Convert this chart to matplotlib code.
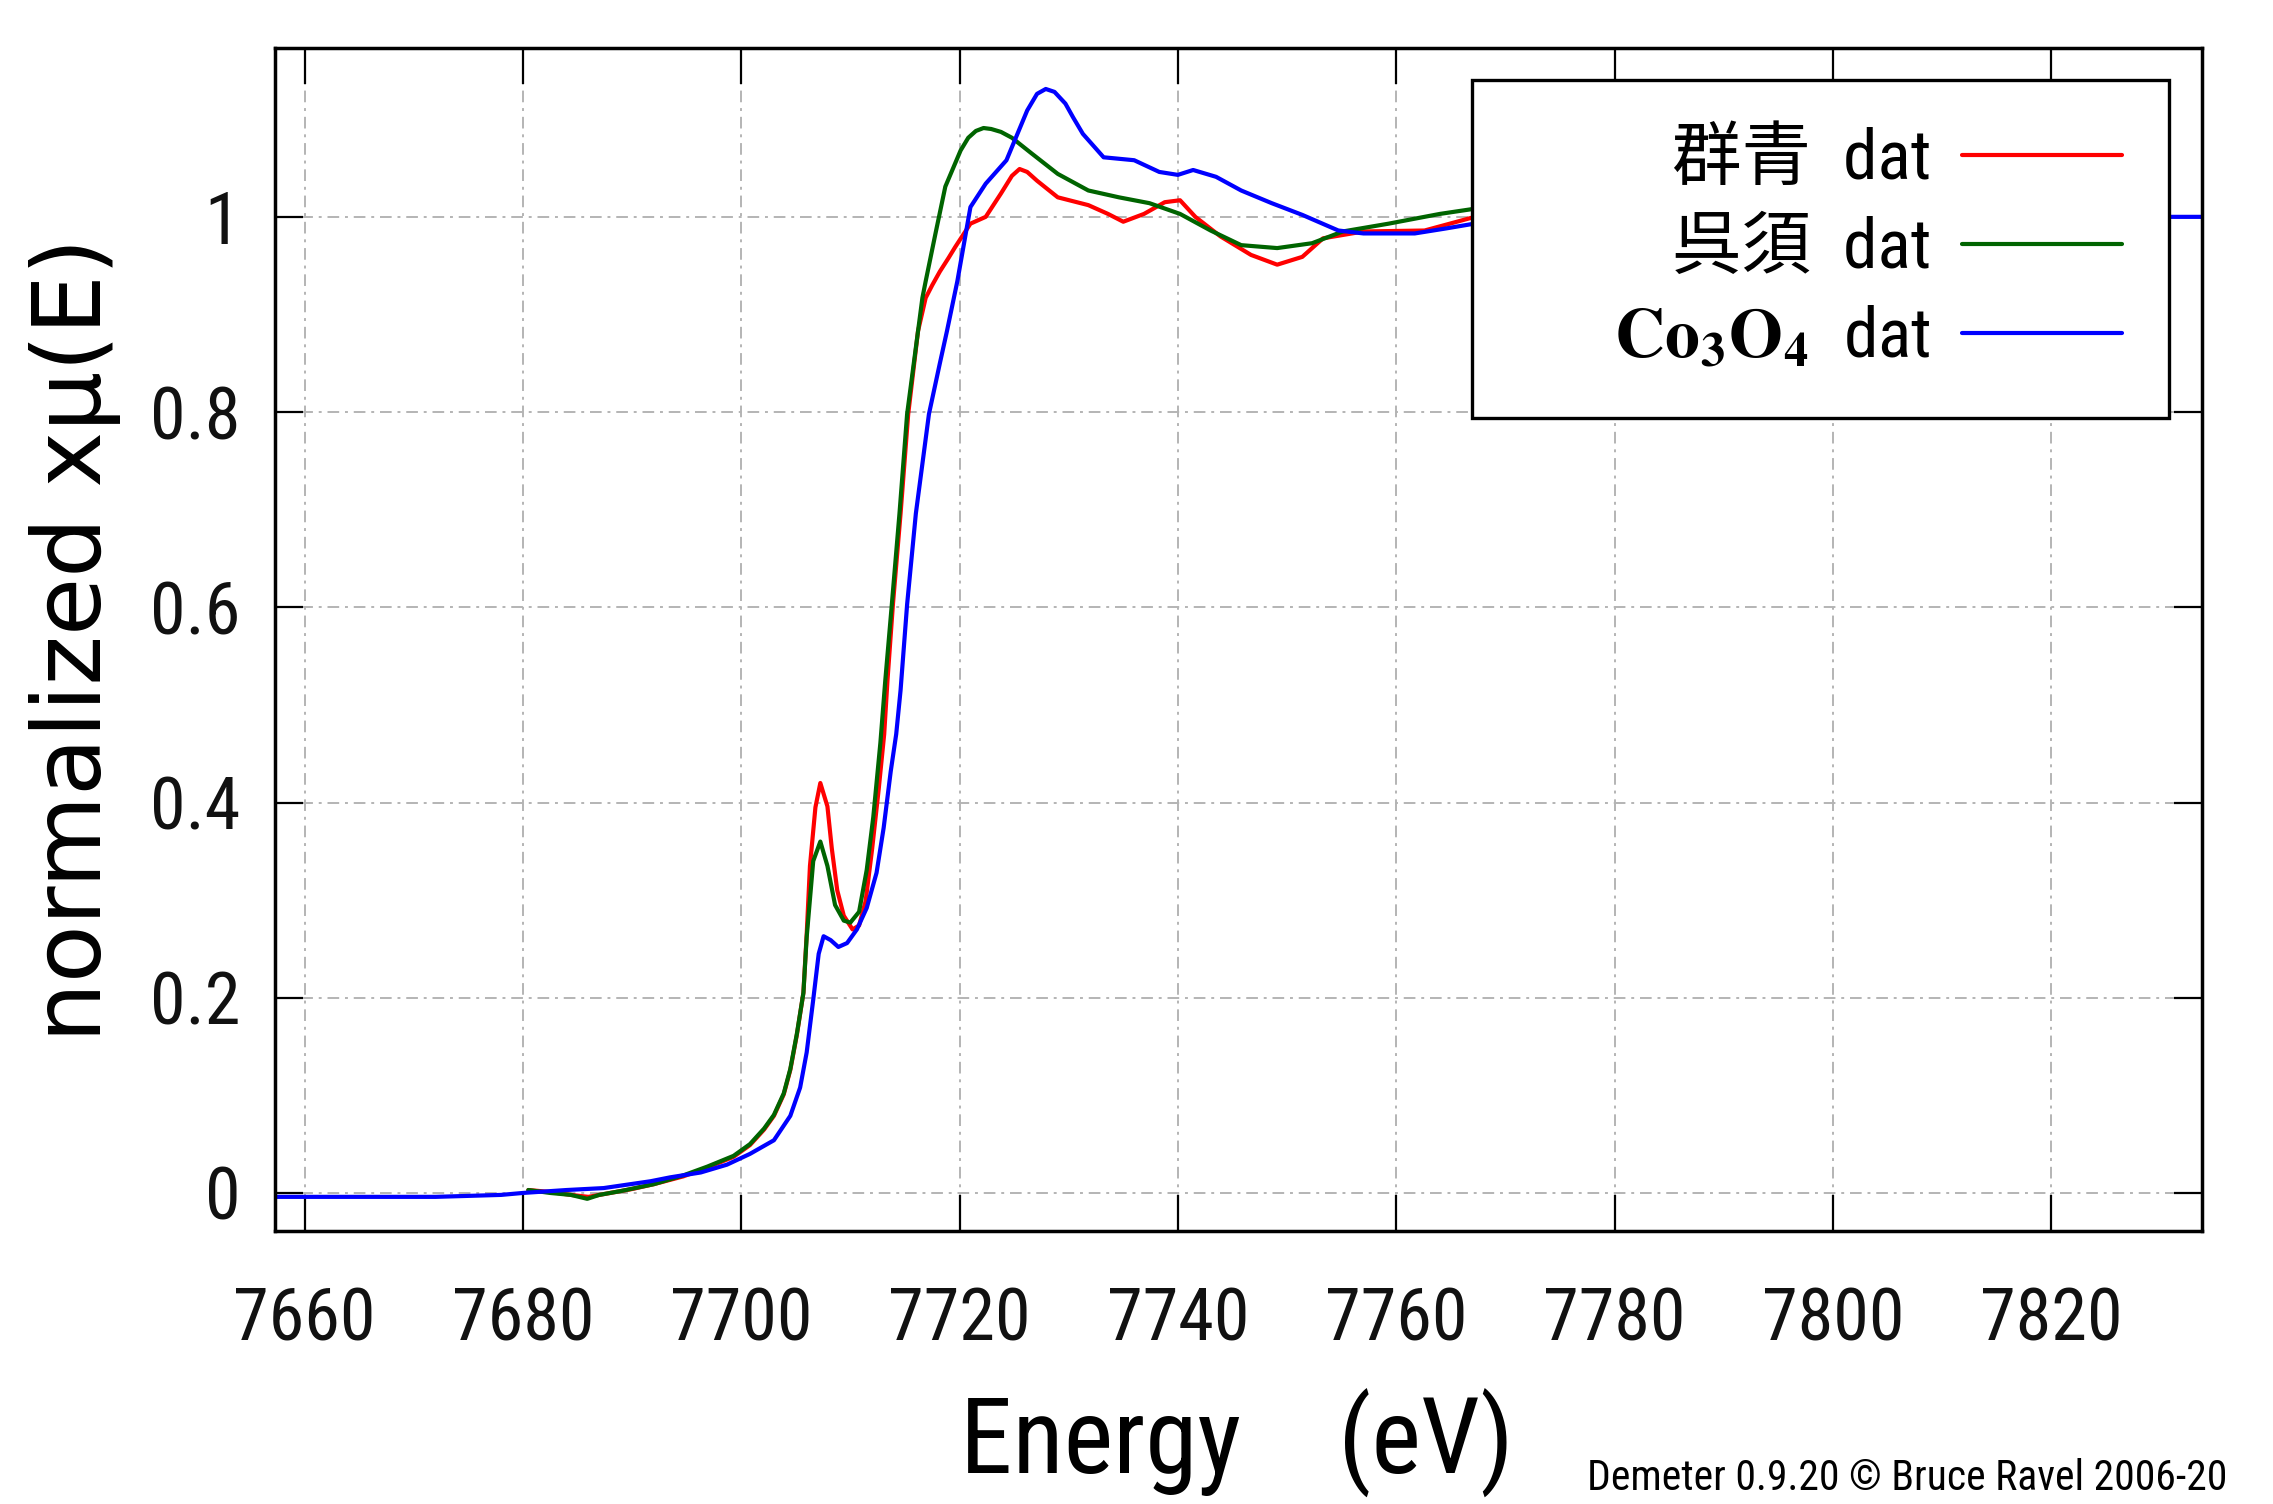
import matplotlib
matplotlib.use("Agg")
import matplotlib.pyplot as plt
from matplotlib import font_manager
from matplotlib.font_manager import FontProperties

# normalized xmu(E)
energy_gunjo = [7680.5, 7682.5, 7684.4, 7686.0, 7688.0, 7690.0, 7692.0, 7694.7,
                7696.9, 7699.3, 7700.8, 7702.1, 7703.0, 7703.9, 7704.5, 7705.1,
                7705.7, 7706.0, 7706.3, 7706.8, 7707.25, 7707.9, 7708.3, 7708.8,
                7709.4, 7710.2, 7710.8, 7711.4, 7712.0, 7712.6, 7713.1, 7713.4,
                7713.9, 7714.6, 7715.3, 7716.2, 7716.9, 7717.5, 7718.2, 7719.0,
                7719.6, 7721.0, 7722.4, 7723.8, 7724.8, 7725.5, 7726.2, 7727.1,
                7729.0, 7731.8, 7733.6, 7735.0, 7736.9, 7738.8, 7740.2, 7741.6,
                7743.9, 7746.7, 7749.1, 7751.4, 7753.3, 7757.0, 7762.6, 7768.2,
                7780.0, 7800.0]
mu_gunjo = [0.003, 0.001, -0.002, -0.004, 0.000, 0.004, 0.009, 0.017,
            0.026, 0.037, 0.049, 0.065, 0.079, 0.101, 0.126, 0.162,
            0.205, 0.265, 0.335, 0.395, 0.420, 0.396, 0.353, 0.310,
            0.284, 0.270, 0.274, 0.299, 0.353, 0.414, 0.470, 0.525,
            0.603, 0.696, 0.798, 0.883, 0.917, 0.930, 0.944, 0.958,
            0.969, 0.993, 1.000, 1.024, 1.042, 1.049, 1.046, 1.037,
            1.020, 1.012, 1.003, 0.995, 1.003, 1.015, 1.017, 1.000,
            0.980, 0.961, 0.951, 0.959, 0.978, 0.985, 0.986, 1.003,
            1.005, 1.000]

energy_gosu = [7680.5, 7682.5, 7684.4, 7685.9, 7687.0, 7689.0, 7692.0, 7694.7,
               7696.9, 7699.3, 7700.8, 7702.1, 7703.0, 7703.9, 7704.5, 7705.1,
               7705.7, 7706.0, 7706.6, 7707.25, 7707.9, 7708.6, 7709.4, 7710.0,
               7710.8, 7711.5, 7712.1, 7712.75, 7713.2, 7713.8, 7714.5, 7715.2,
               7716.2, 7716.6, 7716.9, 7717.8, 7718.7, 7720.1, 7720.8, 7721.5,
               7722.2, 7722.9, 7723.8, 7724.8, 7726.6, 7729.0, 7731.8, 7734.6,
               7737.4, 7740.2, 7743.0, 7745.8, 7749.1, 7752.3, 7755.1, 7759.3,
               7764.0, 7768.2, 7780.0, 7800.0]
mu_gosu = [0.003, 0.000, -0.002, -0.006, -0.002, 0.002, 0.009, 0.018,
           0.027, 0.038, 0.050, 0.066, 0.080, 0.102, 0.127, 0.163,
           0.205, 0.262, 0.340, 0.360, 0.335, 0.295, 0.279, 0.277,
           0.288, 0.331, 0.385, 0.461, 0.525, 0.603, 0.696, 0.798,
           0.883, 0.917, 0.934, 0.983, 1.031, 1.068, 1.081, 1.088,
           1.091, 1.090, 1.087, 1.081, 1.065, 1.044, 1.027, 1.020,
           1.014, 1.003, 0.986, 0.971, 0.968, 0.973, 0.985, 0.993,
           1.003, 1.010, 1.012, 1.005]

energy_co3o4 = [7655.0, 7665.0, 7672.0, 7678.0, 7680.0, 7684.0, 7687.4, 7691.7,
                7693.5, 7696.3, 7698.7, 7700.8, 7703.0, 7704.5, 7705.4, 7706.0,
                7706.6, 7707.1, 7707.55, 7708.2, 7708.9, 7709.7, 7710.6, 7711.5,
                7712.4, 7713.05, 7713.7, 7714.2, 7714.6, 7715.2, 7716.0, 7717.2,
                7718.2, 7718.85, 7719.8, 7721.0, 7722.4, 7724.3, 7726.2, 7727.1,
                7727.9, 7728.7, 7729.7, 7730.4, 7731.3, 7733.2, 7736.0, 7738.3,
                7740.0, 7741.4, 7743.5, 7745.8, 7748.6, 7751.4, 7754.7, 7757.0,
                7761.7, 7764.5, 7768.2, 7790.0, 7810.0, 7834.0]
mu_co3o4 = [-0.004, -0.004, -0.004, -0.002, 0.000, 0.003, 0.005, 0.012,
            0.016, 0.021, 0.029, 0.040, 0.054, 0.079, 0.108, 0.144,
            0.198, 0.245, 0.263, 0.259, 0.252, 0.256, 0.270, 0.292,
            0.328, 0.374, 0.432, 0.470, 0.515, 0.603, 0.696, 0.798,
            0.850, 0.883, 0.934, 1.010, 1.034, 1.058, 1.109, 1.126,
            1.131, 1.128, 1.116, 1.102, 1.085, 1.061, 1.058, 1.046,
            1.043, 1.048, 1.041, 1.027, 1.014, 1.002, 0.986, 0.983,
            0.983, 0.988, 0.995, 1.000, 1.000, 1.000]

sample_names = ["群青", "呉須", r"$\mathbf{Co_3O_4}$"]
sample_colors = ["#ff0000", "#006400", "#0000ff"]
x_ticks = [7660, 7680, 7700, 7720, 7740, 7760, 7780, 7800, 7820]
y_ticks = [0, 0.2, 0.4, 0.6, 0.8, 1]
y_tick_labels = ["0", "0.2", "0.4", "0.6", "0.8", "1"]

installed = {f.name for f in font_manager.fontManager.ttflist}
narrow = next((n for n in ["Liberation Sans Narrow", "Roboto Condensed",
                           "Open Sans Condensed"] if n in installed),
              "Liberation Sans")

plt.rcParams["font.family"] = [narrow, "Noto Sans CJK JP", "DejaVu Sans"]
plt.rcParams["mathtext.fontset"] = "stix"

fig = plt.figure(figsize=(22.73, 15.04), dpi=100)
ax = fig.add_axes([0.121, 0.1815, 0.8477, 0.7866])

series = [(energy_gunjo, mu_gunjo), (energy_gosu, mu_gosu),
          (energy_co3o4, mu_co3o4)]
for (e, mu), name, col in zip(series, sample_names, sample_colors):
    ax.plot(e, mu, color=col, lw=3.0, solid_joinstyle="round",
            solid_capstyle="round", label=name + "  dat")

ax.set_xlim(7657.3, 7833.8)
ax.set_ylim(-0.039, 1.173)
ax.set_xticks(x_ticks)
ax.set_yticks(y_ticks)
ax.set_yticklabels(y_tick_labels)

ax.set_axisbelow(True)
ax.grid(True, color="#b4b4b4", lw=1.4, linestyle=(0, (6, 3, 1.5, 3)))
for sp in ax.spines.values():
    sp.set_linewidth(2.5)
ax.tick_params(axis="both", direction="in", top=True, right=True,
               width=1.6, labelsize=52, labelcolor="#111111")
ax.tick_params(axis="x", length=26, pad=40)
ax.tick_params(axis="y", length=20, pad=25)

ax.set_xlabel("Energy    (eV)", fontsize=76)
ax.xaxis.label.set_va("baseline")
ax.xaxis.set_label_coords(0.499, -0.205)

ax.set_ylabel("normalized xμ(E)", fontsize=68, family="DejaVu Sans",
              va="center")
ax.yaxis.set_label_coords(-0.104, 0.5)

leg_font = FontProperties(family=[narrow, "Noto Sans CJK JP"], size=50)
handles, labels = ax.get_legend_handles_labels()
labels[2] = "      " + labels[2]
leg = ax.legend(handles, labels, loc="upper right",
                bbox_to_anchor=(0.983, 0.973), borderaxespad=0,
                prop=leg_font, markerfirst=False, handlelength=2.3,
                handletextpad=0.45, labelspacing=0.33, borderpad=0.68,
                fancybox=False, framealpha=1)
leg.get_frame().set_edgecolor("black")
leg.get_frame().set_linewidth(2.4)
leg.set_zorder(5)

fig.text(0.698, 0.0093, "Demeter 0.9.20 © Bruce Ravel 2006-20",
         fontsize=30, va="baseline", ha="left")

fig.savefig("out.png", dpi=100)
